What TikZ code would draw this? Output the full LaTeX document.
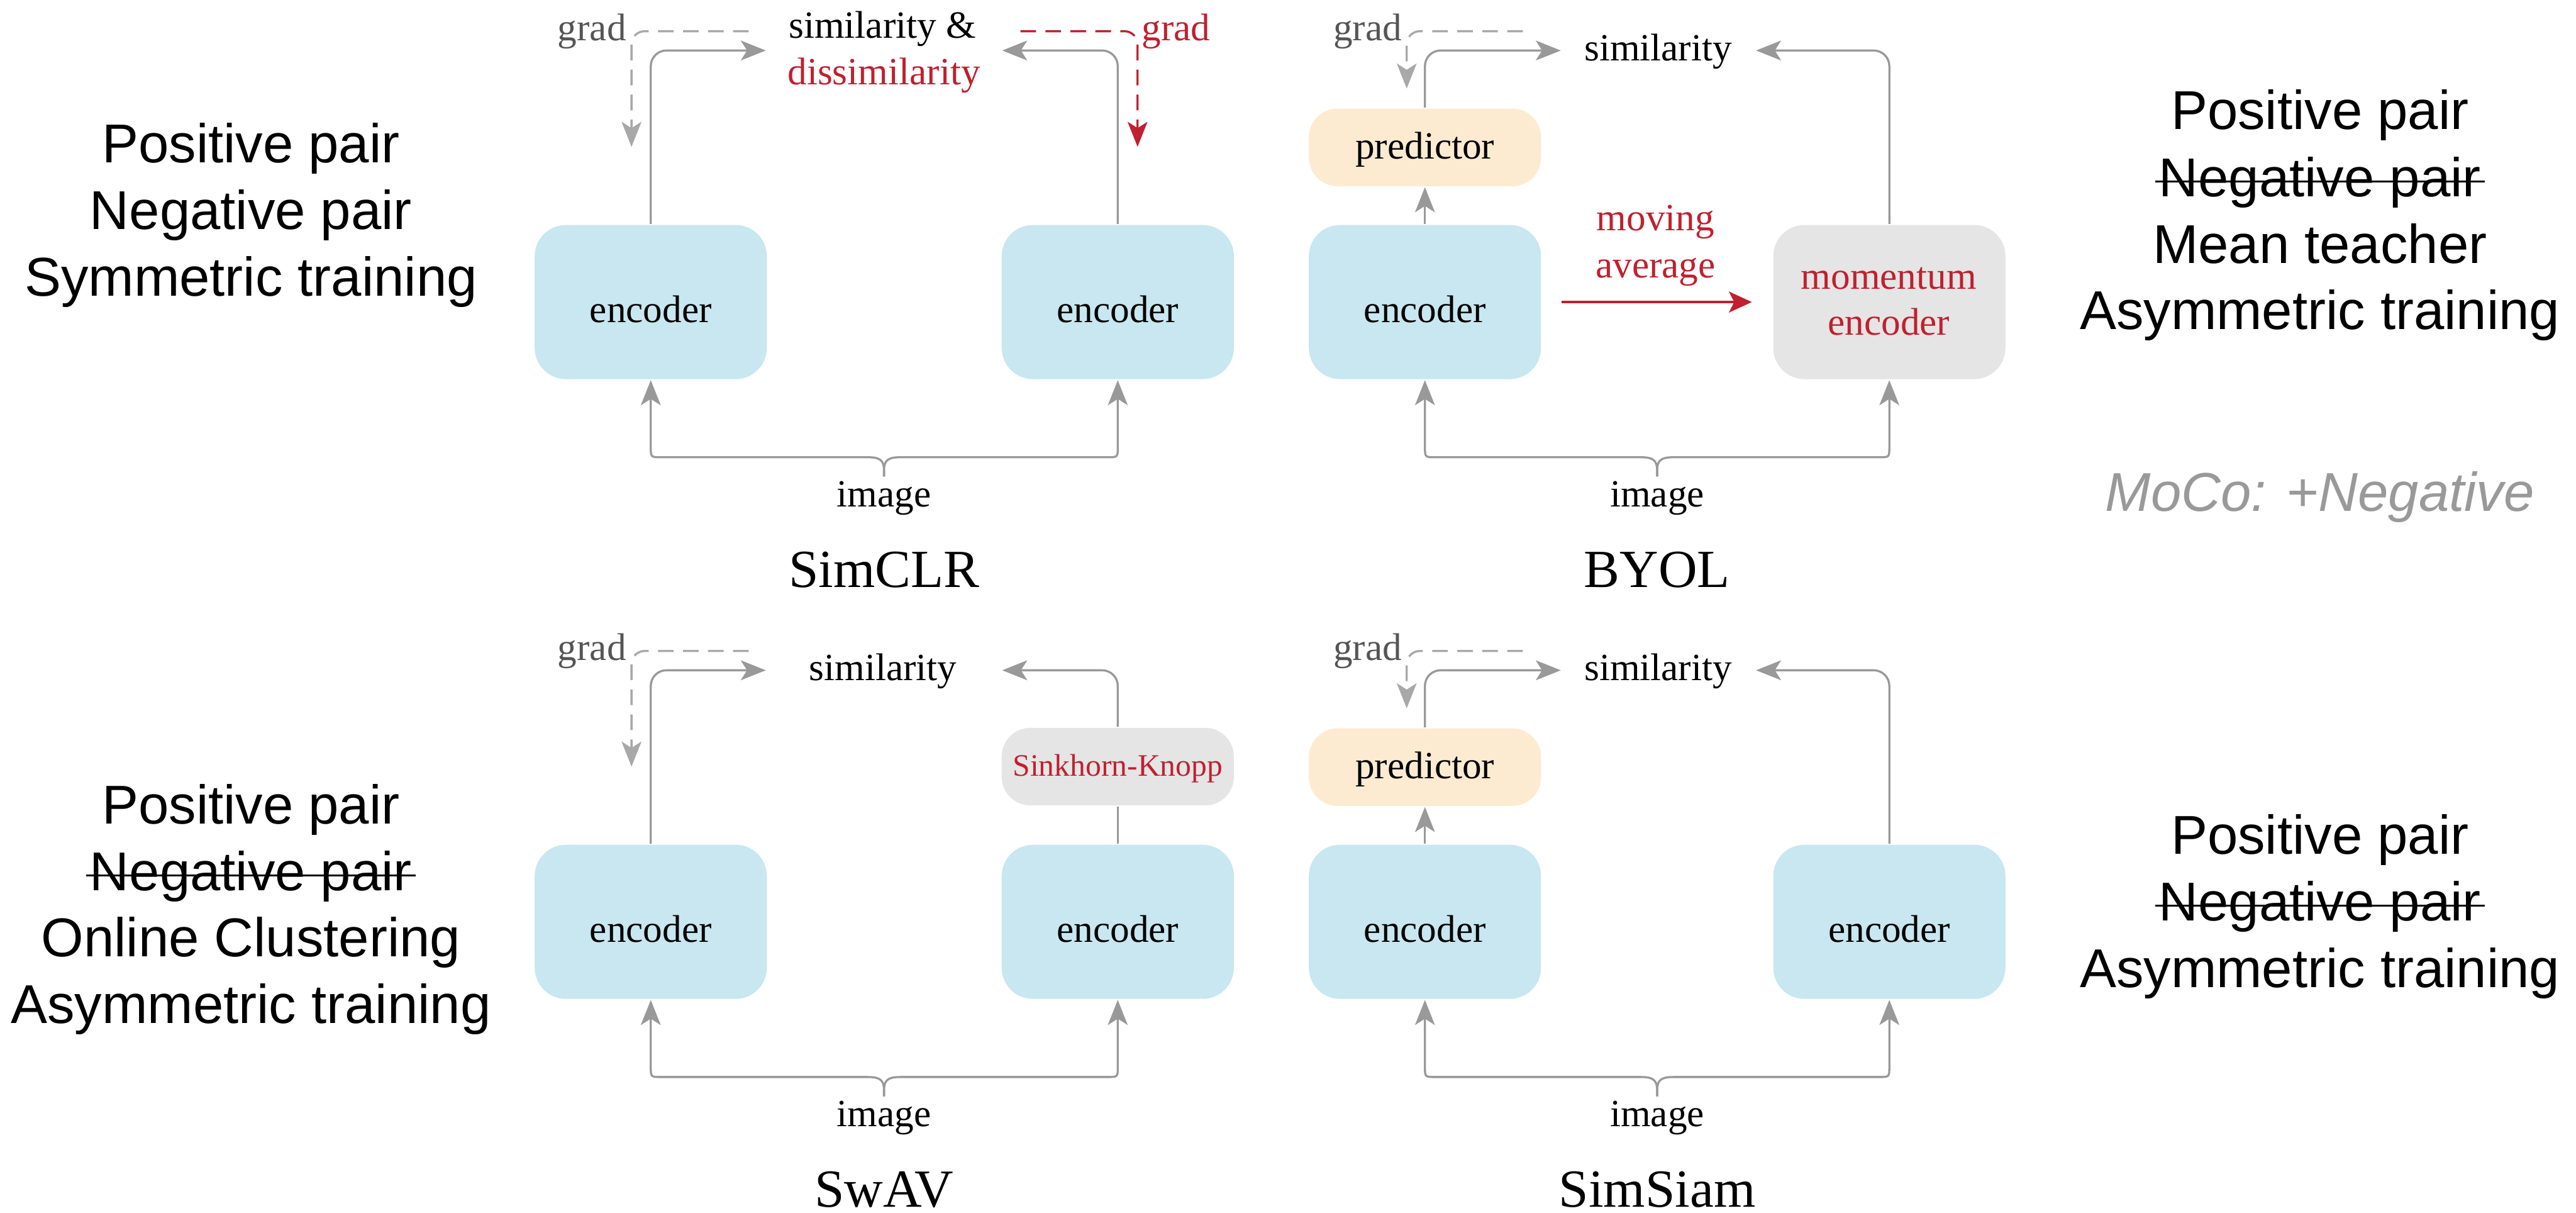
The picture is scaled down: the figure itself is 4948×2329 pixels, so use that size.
\documentclass[tikz,border=0pt]{standalone}
\usepackage{fontspec}
\setmainfont{Liberation Serif}
\setsansfont{Liberation Sans}
\usetikzlibrary{arrows.meta}

\definecolor{encblue}{HTML}{C8E7F0}
\definecolor{predpeach}{HTML}{FDEBD1}
\definecolor{boxgray}{HTML}{E5E5E5}
\definecolor{linegray}{HTML}{999999}
\definecolor{dashgray}{HTML}{A8A8A8}
\definecolor{gradgray}{HTML}{555555}
\definecolor{accent}{HTML}{C0202F}
\definecolor{notegray}{HTML}{999999}

% struck-through text
\newcommand\crossout[1]{\setbox0=\hbox{#1}\rlap{\kern-0.07em\rule[0.255em]{\dimexpr\wd0+0.14em\relax}{0.035em}}\box0}
% text placed with its baseline a given distance below the box centre
\newcommand\lowered[2]{\raisebox{-#1}[0pt][0pt]{#2}}

\begin{document}
\begin{tikzpicture}[x=0.1pt,y=-0.1pt,
  lblfont/.style={font=\fontsize{7.4pt}{8.9pt}\selectfont},
  lbl/.style={lblfont, inner sep=0pt, anchor=base},
  sidetext/.style={font=\sffamily\fontsize{10.5pt}{12.8pt}\selectfont, inner sep=0pt, anchor=base},
  title/.style={font=\fontsize{10.3pt}{12pt}\selectfont, inner sep=0pt, anchor=base},
  block/.style={rounded corners=6pt, minimum width=44.6pt, inner sep=0pt, lblfont},
  encbox/.style={block, fill=encblue, minimum height=29.6pt},
  mombox/.style={block, fill=boxgray, minimum height=29.6pt},
  predbox/.style={block, fill=predpeach, minimum height=14.9pt, rounded corners=5.5pt},
  skbox/.style={block, fill=boxgray, minimum height=14.9pt, rounded corners=5.5pt,
                font=\fontsize{6pt}{7pt}\selectfont, text=accent},
  conn/.style={draw=linegray, line width=0.4pt},
  arrowed/.style={-{Stealth[length=4.8pt,width=3.8pt,inset=1.2pt]}},
  elbow/.style={conn, arrowed, rounded corners=3pt},
  gradline/.style={draw=dashgray, line width=0.4pt, dash pattern=on 3pt off 1.8pt,
                   rounded corners=2.5pt, arrowed},
]
\useasboundingbox (0,0) rectangle (4948,2329);

% ---------------- side notes ----------------
\node[sidetext] (tl1) at (482,312) {Positive pair};
\node[sidetext] (tl2) at (482,440) {Negative pair};
\node[sidetext] (tl3) at (482,568) {Symmetric training};

\node[sidetext] (tr1) at (4456,248) {Positive pair};
\node[sidetext] (tr2) at (4456,377) {\crossout{Negative pair}};
\node[sidetext] (tr3) at (4456,505) {Mean teacher};
\node[sidetext] (tr4) at (4456,632) {Asymmetric training};
\node[sidetext, text=notegray, font=\sffamily\itshape\fontsize{10.5pt}{12.8pt}\selectfont]
  (moco) at (4456,982) {MoCo: +Negative};

\node[sidetext] (bl1) at (482,1582) {Positive pair};
\node[sidetext] (bl2) at (482,1710) {\crossout{Negative pair}};
\node[sidetext] (bl3) at (482,1837) {Online Clustering};
\node[sidetext] (bl4) at (482,1965) {Asymmetric training};

\node[sidetext] (br1) at (4456,1640) {Positive pair};
\node[sidetext] (br2) at (4456,1768) {\crossout{Negative pair}};
\node[sidetext] (br3) at (4456,1896) {Asymmetric training};

% ---------------- SimCLR ----------------
\node[encbox] (scEncL) at (1250,580) {\lowered{3.9pt}{encoder}};
\node[encbox] (scEncR) at (2147,580) {\lowered{3.9pt}{encoder}};
\node[lbl] (scSim) at (1695,73) {similarity \&};
\node[lbl, text=accent] (scDis) at (1698,162) {dissimilarity};
\coordinate (scTipL) at (1471,97);
\coordinate (scTipR) at (1925,97);
\draw[elbow] (scEncL.north) |- (scTipL);
\draw[elbow] (scEncR.north) |- (scTipR);
\node[lbl, text=gradgray] (scGradL) at (1137,78) {grad};
\node[lbl, text=accent] (scGradR) at (2259,78) {grad};
\coordinate (scGLs) at (1438,60);
\coordinate (scGLe) at (1213,282);
\coordinate (scGRs) at (1960,60);
\coordinate (scGRe) at (2185,282);
\draw[gradline] (scGLs) -| (scGLe);
\draw[gradline, draw=accent] (scGRs) -| (scGRe);
\node[lbl] (scImg) at (1698,973) {image};
\coordinate (scFork) at (1698,915);
\draw[conn, arrowed] (scFork) -- (1698,903) .. controls (1698,884) and (1690,878) .. (1668,878)
  -- (1270,878) .. controls (1250,878) .. (1250,858) -- (scEncL.south);
\draw[conn, arrowed] (scFork) -- (1698,903) .. controls (1698,884) and (1706,878) .. (1728,878)
  -- (2127,878) .. controls (2147,878) .. (2147,858) -- (scEncR.south);
\node[title] (scTitle) at (1698,1128) {SimCLR};

% ---------------- BYOL ----------------
\node[encbox] (byEnc) at (2737,580) {\lowered{3.9pt}{encoder}};
\node[mombox] (byMom) at (3629,580) {};
\node[lbl, text=accent] (byMomA) at (3628,555) {momentum};
\node[lbl, text=accent] (byMomB) at (3628,643) {encoder};
\node[predbox] (byPred) at (2737,283) {\lowered{2.2pt}{predictor}};
\draw[conn, arrowed] (byEnc.north) -- (byPred.south);
\node[lbl] (bySim) at (3185,117) {similarity};
\coordinate (byTipL) at (2998,97);
\coordinate (byTipR) at (3373,97);
\draw[elbow] (byPred.north) |- (byTipL);
\draw[elbow] (byMom.north) |- (byTipR);
\node[lbl, text=gradgray] (byGrad) at (2627,78) {grad};
\coordinate (byGs) at (2925,60);
\coordinate (byGe) at (2702,170);
\draw[gradline] (byGs) -| (byGe);
\node[lbl, text=accent] (byMovA) at (3180,443) {moving};
\node[lbl, text=accent] (byMovB) at (3180,533) {average};
\draw[draw=accent, line width=0.5pt, -{Stealth[length=4.4pt,width=4pt,inset=1pt]},
      shorten <=3.7pt, shorten >=3.9pt] (byEnc.east) -- (byMom.west);
\node[lbl] (byImg) at (3183,973) {image};
\coordinate (byFork) at (3183,915);
\draw[conn, arrowed] (byFork) -- (3183,903) .. controls (3183,884) and (3175,878) .. (3153,878)
  -- (2757,878) .. controls (2737,878) .. (2737,858) -- (byEnc.south);
\draw[conn, arrowed] (byFork) -- (3183,903) .. controls (3183,884) and (3191,878) .. (3213,878)
  -- (3609,878) .. controls (3629,878) .. (3629,858) -- (byMom.south);
\node[title] (byTitle) at (3183,1128) {BYOL};

% ---------------- SwAV ----------------
\node[encbox] (swEncL) at (1250,1770) {\lowered{3.9pt}{encoder}};
\node[encbox] (swEncR) at (2147,1770) {\lowered{3.9pt}{encoder}};
\node[skbox] (swSK) at (2147,1472) {\lowered{1.8pt}{Sinkhorn-Knopp}};
\draw[conn] (swEncR.north) -- (swSK.south);
\node[lbl] (swSim) at (1696,1307) {similarity};
\coordinate (swTipL) at (1471,1287);
\coordinate (swTipR) at (1925,1287);
\draw[elbow] (swEncL.north) |- (swTipL);
\draw[elbow] (swSK.north) |- (swTipR);
\node[lbl, text=gradgray] (swGrad) at (1137,1268) {grad};
\coordinate (swGs) at (1438,1250);
\coordinate (swGe) at (1213,1472);
\draw[gradline] (swGs) -| (swGe);
\node[lbl] (swImg) at (1698,2163) {image};
\coordinate (swFork) at (1698,2105);
\draw[conn, arrowed] (swFork) -- (1698,2093) .. controls (1698,2074) and (1690,2068) .. (1668,2068)
  -- (1270,2068) .. controls (1250,2068) .. (1250,2048) -- (swEncL.south);
\draw[conn, arrowed] (swFork) -- (1698,2093) .. controls (1698,2074) and (1706,2068) .. (1728,2068)
  -- (2127,2068) .. controls (2147,2068) .. (2147,2048) -- (swEncR.south);
\node[title] (swTitle) at (1698,2318) {SwAV};

% ---------------- SimSiam ----------------
\node[encbox] (ssEncL) at (2737,1770) {\lowered{3.9pt}{encoder}};
\node[encbox] (ssEncR) at (3629,1770) {\lowered{3.9pt}{encoder}};
\node[predbox] (ssPred) at (2737,1473) {\lowered{2.2pt}{predictor}};
\draw[conn, arrowed] (ssEncL.north) -- (ssPred.south);
\node[lbl] (ssSim) at (3185,1307) {similarity};
\coordinate (ssTipL) at (2998,1287);
\coordinate (ssTipR) at (3373,1287);
\draw[elbow] (ssPred.north) |- (ssTipL);
\draw[elbow] (ssEncR.north) |- (ssTipR);
\node[lbl, text=gradgray] (ssGrad) at (2627,1268) {grad};
\coordinate (ssGs) at (2925,1250);
\coordinate (ssGe) at (2702,1360);
\draw[gradline] (ssGs) -| (ssGe);
\node[lbl] (ssImg) at (3183,2163) {image};
\coordinate (ssFork) at (3183,2105);
\draw[conn, arrowed] (ssFork) -- (3183,2093) .. controls (3183,2074) and (3175,2068) .. (3153,2068)
  -- (2757,2068) .. controls (2737,2068) .. (2737,2048) -- (ssEncL.south);
\draw[conn, arrowed] (ssFork) -- (3183,2093) .. controls (3183,2074) and (3191,2068) .. (3213,2068)
  -- (3609,2068) .. controls (3629,2068) .. (3629,2048) -- (ssEncR.south);
\node[title] (ssTitle) at (3183,2318) {SimSiam};
\end{tikzpicture}
\end{document}
